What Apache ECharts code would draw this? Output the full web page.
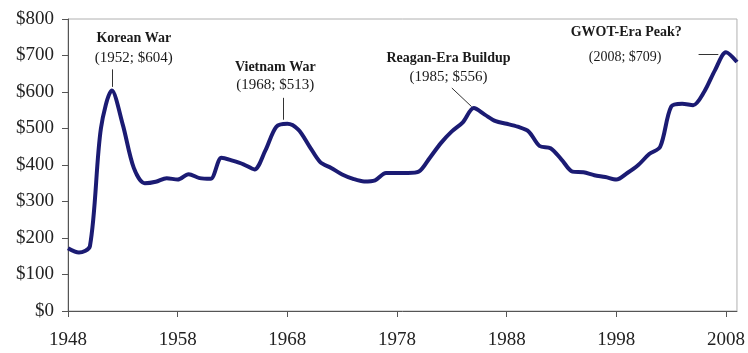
<!DOCTYPE html>
<html>
<head>
<meta charset="utf-8">
<script src="https://cdn.jsdelivr.net/npm/echarts@6/dist/echarts.min.js"></script>
<style>
  html, body { margin: 0; padding: 0; background: #fff; }
  #chart { width: 748px; height: 353px; }
</style>
</head>
<body>
<div id="chart"></div>
<script>
// years and spending (billions, constant $)
const years = [];
for (let y = 1948; y <= 2009; y++) years.push(y);

const spending = [
  172, 160, 178, 500, 604, 510, 392, 350, 354, 364,
  360, 375, 364, 362, 420, 412, 402, 388, 440, 505,
  513, 497, 452, 408, 392, 374, 362, 355, 358, 378,
  378, 378, 382, 420, 460, 492, 517, 556, 538, 520,
  513, 505, 492, 452, 446, 415, 382, 380, 372, 367,
  360, 378, 400, 430, 450, 560, 568, 564, 600, 660,
  709, 682
];

const yTicks = [0, 100, 200, 300, 400, 500, 600, 700, 800];

// annotations: title, subtitle, label anchor (year, value), leader start / end
const noteTitles = ['Korean War', 'Vietnam War', 'Reagan-Era Buildup', 'GWOT-Era Peak?'];
const noteSubs = ['(1952; $604)', '(1968; $513)', '(1985; $556)', '(2008; $709)'];
const titleAt = [[1954, 748], [1966.9, 668], [1982.7, 693], [1998.9, 762]];
const subAt = [[1954, 693], [1966.9, 619], [1982.7, 641], [1998.8, 696]];
const leaderFrom = [[1952, 662], [1967.6, 584], [1983.0, 611], [2005.5, 703]];
const leaderTo = [[1952, 614], [1967.6, 524], [1984.8, 560], [2007.3, 703]];

const FONT = '"Liberation Serif", "DejaVu Serif", serif';

const chart = echarts.init(document.getElementById('chart'));

const markPoints = [];
noteTitles.forEach((t, i) => {
  markPoints.push({
    coord: titleAt[i], value: t,
    label: { formatter: t, fontWeight: 'bold', fontSize: 14 }
  });
  markPoints.push({
    coord: subAt[i], value: noteSubs[i],
    label: { formatter: noteSubs[i], fontWeight: 'normal', fontSize: i === 3 ? 14 : 15 }
  });
});

const option = {
  animation: false,
  backgroundColor: '#fff',
  grid: {
    left: 68, right: 9, top: 19, bottom: 42,
    show: true, borderColor: '#b0b0b0', borderWidth: 1
  },
  xAxis: {
    type: 'value',
    min: 1948, max: 2009, interval: 10,
    axisLine: { show: true, lineStyle: { color: '#555', width: 1 } },
    axisTick: { show: true, length: 6, lineStyle: { color: '#555' } },
    axisLabel: {
      formatter: v => String(v), showMaxLabel: false,
      fontFamily: FONT, fontSize: 19, color: '#222', margin: 20
    },
    splitLine: { show: false }
  },
  yAxis: {
    type: 'value',
    min: yTicks[0], max: yTicks[yTicks.length - 1], interval: 100,
    axisLine: { show: true, lineStyle: { color: '#555', width: 1 } },
    axisTick: { show: true, length: 6, lineStyle: { color: '#555' } },
    axisLabel: {
      formatter: v => '$' + v,
      fontFamily: FONT, fontSize: 19, color: '#222', margin: 14
    },
    splitLine: { show: false }
  },
  series: [{
    type: 'line',
    data: years.map((y, i) => [y, spending[i]]),
    smooth: 0.3,
    symbol: 'none',
    lineStyle: { color: '#1b1b73', width: 4 },
    markPoint: {
      symbol: 'circle', symbolSize: 0, silent: true,
      label: { show: true, position: 'inside', color: '#1a1a1a', fontFamily: FONT },
      data: markPoints
    },
    markLine: {
      symbol: 'none', silent: true,
      label: { show: false },
      lineStyle: { color: '#333', width: 1, type: 'solid' },
      data: leaderFrom.map((p, i) => [{ coord: p }, { coord: leaderTo[i] }])
    }
  }]
};

chart.setOption(option);
</script>
</body>
</html>
